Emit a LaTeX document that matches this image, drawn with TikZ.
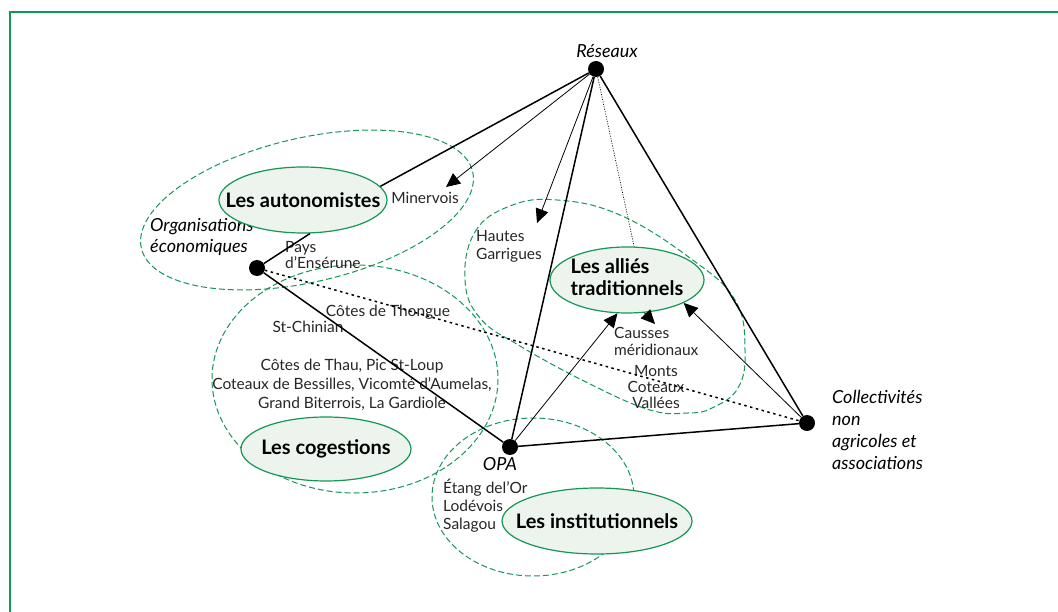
\documentclass[tikz,border=0pt]{standalone}
\usepackage{fontspec}
\setmainfont{Lato}
\usetikzlibrary{arrows.meta,shapes.geometric}
\definecolor{grn}{RGB}{20,150,85}
\definecolor{fillg}{RGB}{236,244,237}
\begin{document}
\begin{tikzpicture}[x=1pt,y=-1pt,
  dot/.style={circle,fill=black,inner sep=0pt,minimum size=16pt},
  grp/.style={draw=grn,fill=fillg,ellipse,line width=1.2pt,inner sep=0pt,font=\bfseries\fontsize{20}{23}\selectfont},
  zone/.style={draw=grn,line width=1pt,dash pattern=on 6pt off 3pt},
  lab/.style={font=\fontsize{15.5}{18}\selectfont,inner sep=0pt,text=black!85},
  ital/.style={font=\itshape\fontsize{18}{22}\selectfont,inner sep=0pt,align=left},
  strong/.style={line width=1.5pt},
  arr/.style={line width=0.8pt,-{Triangle[length=14pt,width=13pt]}},
  dots/.style={line width=1.5pt,dash pattern=on 2.5pt off 3.5pt},
  fine/.style={line width=0.7pt,dash pattern=on 1pt off 1.5pt}
]
\useasboundingbox (0,0) rectangle (1058,612);
\draw[grn,line width=1.4pt] (10,612) -- (10,12) -- (1058,12);

% dashed zones
\draw[zone,rotate around={13:(307,210)}] (307,210) ellipse [x radius=170, y radius=72];
\draw[zone] (355,379) ellipse [x radius=143, y radius=114];
\draw[zone] plot[smooth cycle,tension=0.7] coordinates {(465,280) (475,232) (510,206) (557,200) (620,215) (690,258) (735,300) (745,350) (738,388) (712,408) (688,413) (650,410) (590,384) (520,346) (480,318)};
\draw[zone] (533,497) ellipse [x radius=101, y radius=79];

% actors
\node[dot] (res) at (596,69) {};
\node[dot] (org) at (257,268) {};
\node[dot] (opa) at (510,447) {};
\node[dot] (col) at (807,423) {};

\node[ital] (resl) at (607,51) {Réseaux};
\node[ital,anchor=west] (orgl) at (150,237) {Organisations\\[-1pt]économiques};
\node[ital] (opal) at (500,464) {OPA};
\node[ital,anchor=west] (coll) at (832,430) {Collectivités\\non\\agricoles et\\associations};

% groups
\node[grp,minimum width=168pt,minimum height=66pt] (aut) at (303,200) {\makebox[0pt]{Les autonomistes}};
\node[grp,minimum width=154pt,minimum height=66pt] (all) at (627,280) {\makebox[0pt]{\begin{tabular}{@{}l@{}}Les alliés\\[-1pt]traditionnels\end{tabular}}};
\node[grp,minimum width=170pt,minimum height=64pt] (cog) at (326,449) {\makebox[0pt]{Les cogestions}};
\node[grp,minimum width=190pt,minimum height=66pt] (ins) at (597,521) {\makebox[0pt]{Les institutionnels}};

% place labels
\node[lab] (min) at (425,198) {Minervois};
\node[lab,align=left,anchor=west] (pay) at (285,255) {Pays\\[-2pt]d'Ensérune};
\node[lab,align=left,anchor=west] (hau) at (476,246) {Hautes\\Garrigues};
\node[lab] (tho) at (388,312) {Côtes de Thongue};
\node[lab] (chi) at (308,327) {St-Chinian};
\node[lab,align=center] (tha) at (352,385) {Côtes de Thau, Pic St-Loup\\[1pt]Coteaux de Bessilles, Vicomté d'Aumelas,\\[1pt]Grand Biterrois, La Gardiole};
\node[lab,align=left,anchor=west] (cau) at (614,341) {Causses\\[-1pt]méridionaux};
\node[lab,align=center] (mon) at (656,387) {Monts\\[-2pt]Coteaux\\[-2pt]Vallées};
\node[lab,align=left,anchor=west] (eta) at (443,506) {Étang del'Or\\Lodévois\\Salagou};

\coordinate (minA) at (446,187);
\coordinate (hauA) at (537,223);
\coordinate (cauA) at (655,324);

% connectors
\draw[strong] (res) -- (aut.10);
\draw[strong] (org) -- (aut.-78);
\draw[strong] (res) -- (opa);
\draw[strong] (res) -- (col);
\draw[strong] (org) -- (opa);
\draw[strong] (opa) -- (col);
\draw[dots] (org) -- (col);
\draw[fine] (res) -- (all.78);
\draw[arr] (res) -- (minA);
\draw[arr] (res) -- (hauA);
\draw[arr] (opa) -- (all.-106);
\draw[arr] (col) -- (all.-22);
\draw[arr] (all.-62) -- (cauA);
\end{tikzpicture}
\end{document}
